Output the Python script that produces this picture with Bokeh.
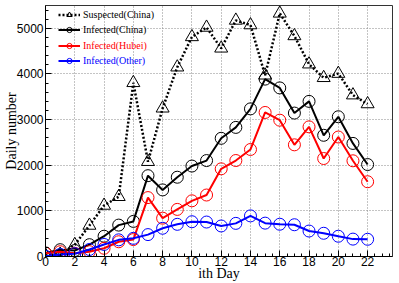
from bokeh.plotting import figure
from bokeh.models import Range1d, SingleIntervalTicker, Legend, LegendItem
from bokeh.embed import file_html
from bokeh.resources import INLINE

days = list(range(23))
suspected_china = [27, 45, 257, 680, 1118, 1309, 3806, 2077, 3248, 4148, 4812, 5019,
                   4562, 5173, 5072, 3971, 5328, 4833, 4214, 3916, 4008, 3536, 3342]
infected_china = [77, 149, 131, 259, 444, 688, 769, 1771, 1459, 1737, 1982, 2102,
                  2590, 2829, 3235, 3887, 3694, 3143, 3399, 2656, 3062, 2478, 2015]
infected_hubei = [72, 105, 69, 105, 180, 323, 371, 1291, 840, 1032, 1220, 1347,
                  1921, 2103, 2345, 3156, 2987, 2447, 2841, 2147, 2618, 2097, 1638]
infected_other = [5, 44, 62, 154, 264, 365, 398, 480, 619, 705, 762, 755,
                  669, 726, 890, 731, 707, 696, 558, 509, 444, 381, 377]

series_labels = ["Suspected(China)", "Infected(China)", "Infected(Hubei)", "Infected(Other)"]
x_label = "ith Day"
y_label = "Daily number"

W, H = 399, 283
B_TOP, B_BOTTOM, B_LEFT, B_RIGHT = 5, 26, 45, 7
frame_h = H - B_TOP - B_BOTTOM

p = figure(width=W, height=H, output_backend="svg", toolbar_location=None,
           x_range=Range1d(0, 23.7), y_range=Range1d(0, 5500),
           min_border_left=B_LEFT, min_border_right=B_RIGHT, min_border_top=B_TOP,
           min_border_bottom=B_BOTTOM,
           background_fill_color="white", border_fill_color="white")
p.outline_line_color = "#333333"
p.outline_line_width = 1

xt = SingleIntervalTicker(interval=2, num_minor_ticks=4)
yt = SingleIntervalTicker(interval=1000, num_minor_ticks=5)
p.xaxis.ticker = xt
p.yaxis.ticker = yt
p.xgrid.ticker = xt
p.ygrid.ticker = yt
for g in (p.xgrid, p.ygrid):
    g.grid_line_color = "#888888"
    g.grid_line_dash = "1 2"
    g.grid_line_width = 1

for ax in (p.xaxis, p.yaxis):
    ax.axis_line_color = "black"
    ax.major_tick_in = 6
    ax.major_tick_out = 0
    ax.minor_tick_in = 3
    ax.minor_tick_out = 0
    ax.major_tick_line_color = "black"
    ax.minor_tick_line_color = "black"
    ax.major_label_text_font = "Liberation Sans"
    ax.major_label_text_font_size = "12px"
    ax.major_label_text_color = "black"
    ax.axis_label_text_font = "Liberation Serif"
    ax.axis_label_text_font_style = "normal"
    ax.axis_label_text_font_size = "14px"
    ax.axis_label_text_color = "black"

p.xaxis.axis_label = x_label
p.xaxis.major_label_standoff = 0
p.xaxis.axis_label_standoff = -3
p.yaxis.axis_label = y_label
p.yaxis.major_label_standoff = 2
p.yaxis.axis_label_standoff = -5

s_line = p.line(days, suspected_china, line_color="black", line_width=2.5, line_dash="2 2")
s_mark = p.scatter(days, suspected_china, marker="triangle", size=13, fill_color=None,
                   line_color="black", line_width=1)
c_line = p.line(days, infected_china, line_color="black", line_width=2)
c_mark = p.scatter(days, infected_china, marker="circle", size=12, fill_color=None,
                   line_color="black", line_width=1)
h_line = p.line(days, infected_hubei, line_color="red", line_width=2)
h_mark = p.scatter(days, infected_hubei, marker="circle", size=12, fill_color=None,
                   line_color="red", line_width=1)
o_line = p.line(days, infected_other, line_color="blue", line_width=2)
o_mark = p.scatter(days, infected_other, marker="circle", size=12, fill_color=None,
                   line_color="blue", line_width=1)

groups = [[s_line, s_mark], [c_line, c_mark], [h_line, h_mark], [o_line, o_mark]]
colors = ["black", "black", "red", "blue"]
for i, (lab, col, rs) in enumerate(zip(series_labels, colors, groups)):
    center = 10 + 15.5 * i
    leg = Legend(items=[LegendItem(label=lab, renderers=rs)],
                 location=(13, frame_h - (center + 6.5)),
                 label_text_color=col, label_text_font="Liberation Serif",
                 label_text_font_size="10px", glyph_width=22, glyph_height=13,
                 label_height=13, label_standoff=3, padding=0, margin=0, spacing=0,
                 border_line_color=None, background_fill_alpha=0)
    p.add_layout(leg)

open("out.html", "w").write(file_html(p, INLINE))
